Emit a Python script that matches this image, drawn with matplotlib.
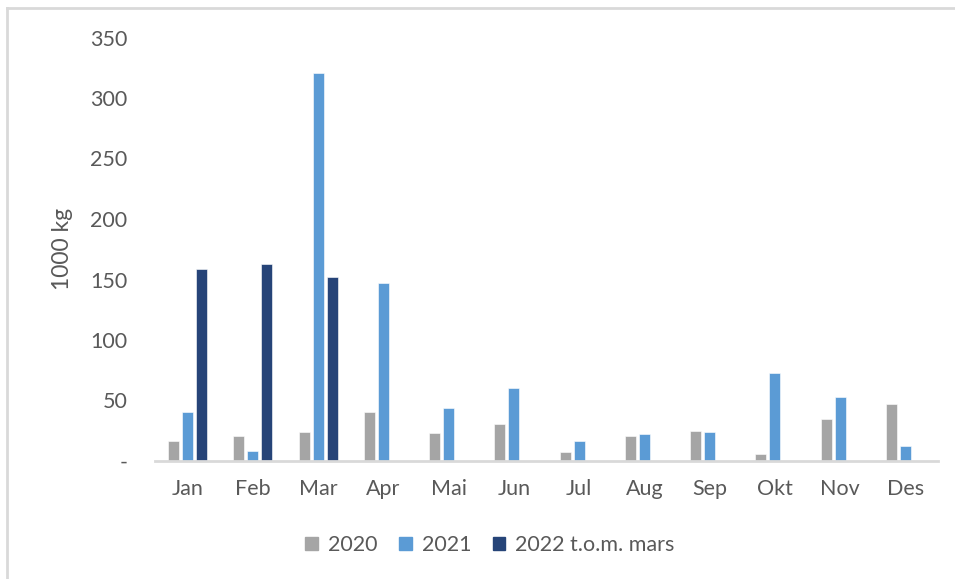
import matplotlib.pyplot as plt
import numpy as np
from matplotlib.lines import Line2D
from matplotlib.patches import Patch

plt.rcParams['font.family'] = ['Lato', 'DejaVu Sans']

months = ['Jan', 'Feb', 'Mar', 'Apr', 'Mai', 'Jun', 'Jul', 'Aug', 'Sep', 'Okt', 'Nov', 'Des']
v2020 = [16.5, 21, 24, 40.7, 23, 30.3, 7.2, 21, 25, 6, 34.7, 47.4]
v2021 = [40.7, 8, 320.4, 146.8, 44, 60, 16.5, 22, 24, 72.5, 52.6, 12.4]
v2022 = [158.4, 162.5, 152]  # t.o.m. mars
series_names = ['2020', '2021', '2022 t.o.m. mars']
colors = ['#a5a5a5', '#5b9bd5', '#264478']

txt = '#595959'
fs = 15.5

fig = plt.figure(figsize=(9.55, 5.79), dpi=100)
ax = fig.add_axes([155/955, 1-461/579, 783/955, 423.5/579])

x = np.arange(len(months))
w = 0.17
step = 0.215
ax.bar(x - step, v2020, w, color=colors[0], edgecolor='white', linewidth=0.4)
ax.bar(x, v2021, w, color=colors[1], edgecolor='white', linewidth=0.4)
ax.bar(x[:len(v2022)] + step, v2022, w, color=colors[2], edgecolor='white', linewidth=0.4)

ax.set_xlim(-0.5, len(months) - 0.5)
ax.set_ylim(0, 350)
ax.set_yticks(range(0, 351, 50))
ax.set_yticklabels(['-'] + [str(v) for v in range(50, 351, 50)])
ax.set_xticks(x)
ax.set_xticklabels(months)
ax.tick_params(axis='both', length=0, labelsize=fs, colors=txt)
ax.tick_params(axis='y', pad=20)
ax.tick_params(axis='x', pad=13)

for s in ['top', 'right', 'left']:
    ax.spines[s].set_visible(False)
ax.spines['bottom'].set_color('#d9d9d9')
ax.spines['bottom'].set_linewidth(2)

ax.set_ylabel('1000 kg', fontsize=16.5, color=txt, labelpad=12)

handles = [Patch(color=c) for c in colors]
fig.legend(handles, series_names, loc='center', bbox_to_anchor=(0.513, 1-545/579),
           ncol=3, frameon=False, fontsize=fs, labelcolor=txt,
           handlelength=0.6, handleheight=0.6, handletextpad=0.45, columnspacing=1.0)

# chart frame (left and top edges)
fig.add_artist(Line2D([6.5/955, 6.5/955], [0, 1-8/579], color='#d9d9d9', linewidth=2))
fig.add_artist(Line2D([6.5/955, 1], [1-8/579, 1-8/579], color='#d9d9d9', linewidth=2))

fig.savefig('out.png', dpi=100, facecolor='white')
